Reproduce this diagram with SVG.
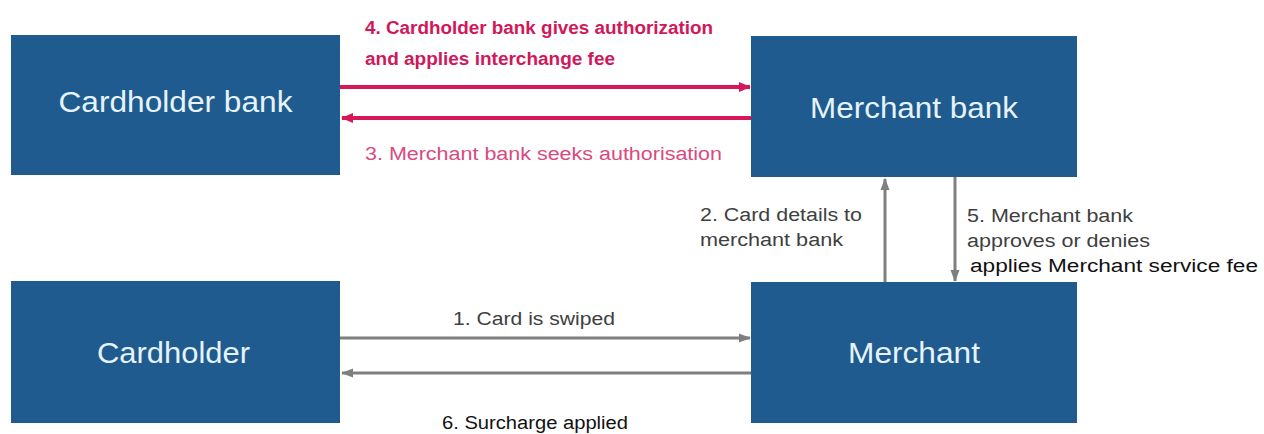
<svg xmlns="http://www.w3.org/2000/svg" width="1264" height="434" viewBox="0 0 1264 434">
<style>
.box{fill:#1f5b8e;}
.lbl{font-family:"Liberation Sans",Arial,sans-serif;font-size:29px;fill:#e6f3fb;text-anchor:middle;}
.t{font-family:"Liberation Sans",Arial,sans-serif;font-size:18px;}
.pk{fill:#d1185a;font-weight:bold;}
.pk2{fill:#d94a7e;}
.gr{fill:#404040;}
.bk{fill:#111111;}
.pl{stroke:#d6185a;stroke-width:4;fill:none;}
.gl{stroke:#7f7f7f;stroke-width:3;fill:none;}
</style>
<defs>
<marker id="ap" markerUnits="userSpaceOnUse" markerWidth="12" markerHeight="12" refX="11" refY="6" orient="auto"><path d="M0,1 L12,6 L0,11 z" fill="#d6185a"/></marker>
<marker id="ag" markerUnits="userSpaceOnUse" markerWidth="12" markerHeight="12" refX="11" refY="6" orient="auto"><path d="M0,1.5 L12,6 L0,10.5 z" fill="#7f7f7f"/></marker>
</defs>
<rect width="1264" height="434" fill="#ffffff"/>
<g id="cardholder-bank"><rect class="box" x="11" y="35" width="329" height="140"/><text class="lbl" x="175.5" y="112" textLength="234" lengthAdjust="spacingAndGlyphs">Cardholder bank</text></g>
<g id="merchant-bank"><rect class="box" x="751" y="36" width="326" height="141"/><text class="lbl" x="914" y="118" textLength="208" lengthAdjust="spacingAndGlyphs">Merchant bank</text></g>
<g id="cardholder"><rect class="box" x="11" y="281" width="329" height="142"/><text class="lbl" x="173.5" y="363" textLength="153" lengthAdjust="spacingAndGlyphs">Cardholder</text></g>
<g id="merchant"><rect class="box" x="751" y="282" width="326" height="141"/><text class="lbl" x="914" y="363" textLength="132" lengthAdjust="spacingAndGlyphs">Merchant</text></g>
<g id="connectors">
<line class="pl" x1="340" y1="87" x2="750" y2="87" marker-end="url(#ap)"/>
<line class="pl" x1="751" y1="118" x2="342" y2="118" marker-end="url(#ap)"/>
<line class="gl" x1="885" y1="282" x2="885" y2="179" marker-end="url(#ag)"/>
<line class="gl" x1="955" y1="177" x2="955" y2="281" marker-end="url(#ag)"/>
<line class="gl" x1="340" y1="338" x2="750" y2="338" marker-end="url(#ag)"/>
<line class="gl" x1="751" y1="373" x2="342" y2="373" marker-end="url(#ag)"/>
</g>
<g id="labels">
<text class="t pk" x="365" y="34" textLength="348" lengthAdjust="spacingAndGlyphs">4. Cardholder bank gives authorization</text>
<text class="t pk" x="365" y="65" textLength="250" lengthAdjust="spacingAndGlyphs">and applies interchange fee</text>
<text class="t pk2" x="365" y="160" textLength="357" lengthAdjust="spacingAndGlyphs">3. Merchant bank seeks authorisation</text>
<text class="t gr" x="700" y="221" textLength="162" lengthAdjust="spacingAndGlyphs">2. Card details to</text>
<text class="t gr" x="700" y="246" textLength="143" lengthAdjust="spacingAndGlyphs">merchant bank</text>
<text class="t gr" x="967" y="222" textLength="166" lengthAdjust="spacingAndGlyphs">5. Merchant bank</text>
<text class="t gr" x="967" y="247" textLength="183" lengthAdjust="spacingAndGlyphs">approves or denies</text>
<text class="t bk" x="970" y="272" textLength="288" lengthAdjust="spacingAndGlyphs">applies Merchant service fee</text>
<text class="t gr" x="453" y="325" textLength="162" lengthAdjust="spacingAndGlyphs">1. Card is swiped</text>
<text class="t bk" x="442" y="429" textLength="186" lengthAdjust="spacingAndGlyphs">6. Surcharge applied</text>
</g>
</svg>
